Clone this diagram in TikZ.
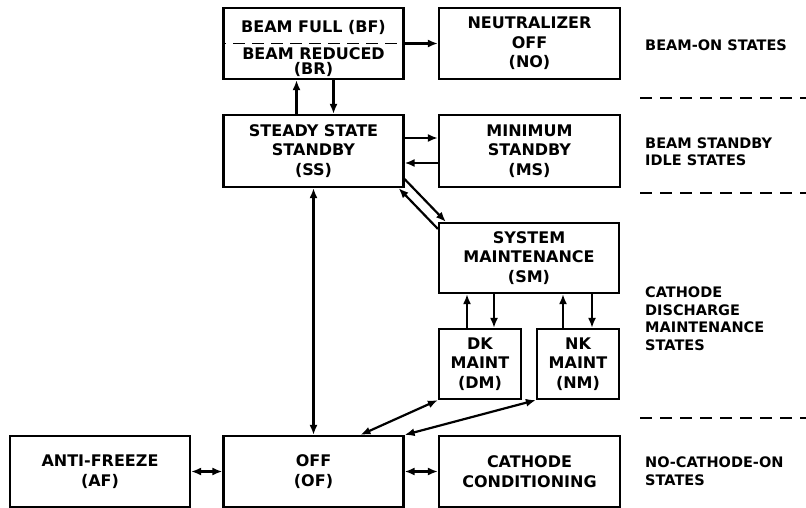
\documentclass[tikz,border=0pt]{standalone}
\usepackage{fontspec}
\setmainfont{DejaVu Sans}
\usetikzlibrary{arrows.meta}

\newcommand{\statefont}{\fontsize{16}{19.5}\selectfont\bfseries}
\newcommand{\zonefont}{\fontsize{14.5}{17.5}\selectfont\bfseries}

\begin{document}
\begin{tikzpicture}[x=1pt, y=-1pt,
    statebox/.style={draw, line width=2.2pt, minimum width=180pt, minimum height=71pt,
                     inner sep=0pt, align=center, font=\statefont},
    smallbox/.style={statebox, minimum width=82pt, minimum height=70pt},
    link/.style={line width=2.2pt, -{Latex[length=10pt,width=8pt]}},
    dlink/.style={line width=2.2pt, {Latex[length=10pt,width=8pt]}-{Latex[length=10pt,width=8pt]}},
    zonesep/.style={line width=2.2pt, dash pattern=on 12pt off 8pt},
    zonelabel/.style={anchor=west, align=left, inner sep=0pt, font=\zonefont}]

    % Cadre fixe aux proportions de la figure
    \useasboundingbox (0,0) rectangle (806,508);

    % Etats faisceau actif
    \node[statebox] (bf) at (313.5,43.5) {};
    \node[font=\statefont, inner sep=0pt] (bftxt) at (313.5,27) {BEAM FULL (BF)};
    \node[font=\fontsize{16}{15}\selectfont\bfseries, align=center, inner sep=0pt] (brtxt) at (313.5,62) {BEAM REDUCED\\(BR)};
    \draw[line width=1.8pt, dash pattern=on 12pt off 7pt, dash phase=8pt] (bf.west) -- (bf.east);
    \node[statebox, minimum width=181pt] (no) at (529.5,43.5) {NEUTRALIZER\\OFF\\(NO)};

    % Etats d'attente
    \node[statebox, minimum height=72pt] (ss) at (313.5,151) {STEADY STATE\\STANDBY\\(SS)};
    \node[statebox, minimum width=181pt, minimum height=72pt] (ms) at (529.5,151) {MINIMUM\\STANDBY\\(MS)};

    % Maintenance de la decharge cathodique
    \node[statebox, minimum height=70pt] (sm) at (529,258) {SYSTEM\\MAINTENANCE\\(SM)};
    \node[smallbox] (dm) at (480,364) {DK\\MAINT\\(DM)};
    \node[smallbox] (nm) at (578,364) {NK\\MAINT\\(NM)};

    % Etats sans cathode
    \node[statebox] (af) at (100,471.5) {ANTI-FREEZE\\(AF)};
    \node[statebox] (of) at (313.5,471.5) {OFF\\(OF)};
    \node[statebox, minimum width=181pt] (cc) at (529.5,471.5) {CATHODE\\CONDITIONING};

    % Transitions
    \draw[link] (bf.east) -- (no.west);
    \draw[link] ([xshift=-17pt]ss.north) -- ([xshift=-17pt]bf.south);
    \draw[link] ([xshift=20pt]bf.south) -- ([xshift=20pt]ss.north);
    \draw[link] ([yshift=13pt]ss.east) -- ([yshift=13pt]ms.west);
    \draw[link] ([yshift=-12pt]ms.west) -- ([yshift=-12pt]ss.east);
    \draw[link] ([yshift=-7pt]sm.north west) -- ([xshift=-6pt]ss.south east);
    \draw[link] ([yshift=9pt]ss.south east) -- ([xshift=8pt]sm.north west);
    \draw[link] ([xshift=-13pt]dm.north) -- ([xshift=-13pt]sm.south -| dm.north);
    \draw[link] ([xshift=14pt]sm.south -| dm.north) -- ([xshift=14pt]dm.north);
    \draw[link] ([xshift=-15pt]nm.north) -- ([xshift=-15pt]sm.south -| nm.north);
    \draw[link] ([xshift=14pt]sm.south -| nm.north) -- ([xshift=14pt]nm.north);
    \draw[dlink] (ss.south) -- (of.north);
    \draw[dlink] ([xshift=47pt]of.north) -- (dm.south west);
    \draw[dlink] (of.north east) -- (nm.south west);
    \draw[dlink] (af.east) -- (of.west);
    \draw[dlink] (of.east) -- (cc.west);

    % Separateurs des zones a droite
    \foreach \y in {98,193,418} {
        \draw[zonesep] (640,\y) -- (806,\y);
    }

    % Libelles des zones
    \node[zonelabel] (zon) at (645,45) {BEAM-ON STATES};
    \node[zonelabel] (zsb) at (645,151.5) {BEAM STANDBY\\IDLE STATES};
    \node[zonelabel] (zcd) at (645,318.5) {CATHODE\\DISCHARGE\\MAINTENANCE\\STATES};
    \node[zonelabel] (znc) at (645,471) {NO-CATHODE-ON\\STATES};

\end{tikzpicture}
\end{document}
